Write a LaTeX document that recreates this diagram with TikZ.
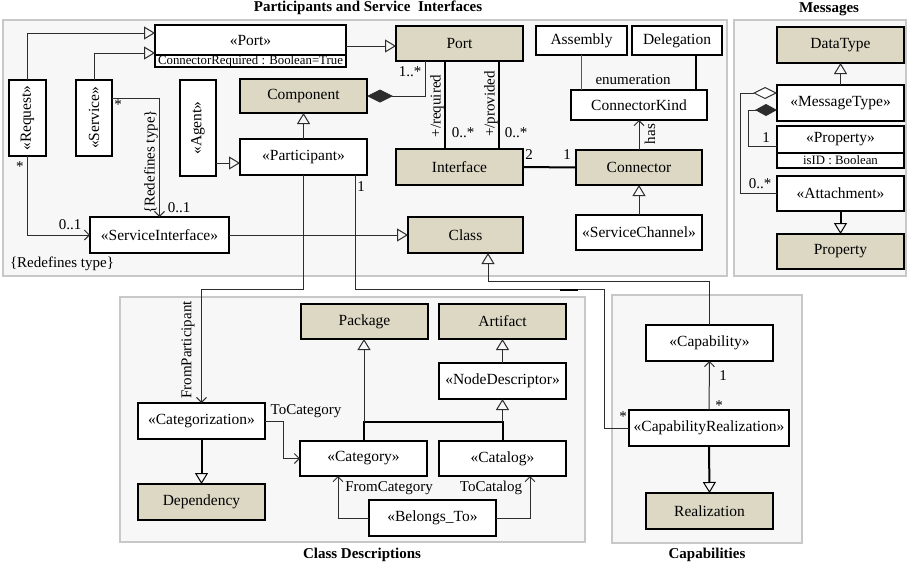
\documentclass[tikz,border=0pt]{standalone}
\usepackage{graphicx}
\usepackage{fontspec}
\setmainfont{Liberation Serif}
\usetikzlibrary{arrows.meta}

\definecolor{classfill}{RGB}{220,216,196}
\definecolor{panelfill}{RGB}{247,247,247}
\definecolor{panelline}{RGB}{200,200,200}
\definecolor{lnk}{RGB}{45,45,45}

% box by corners: style, name, x1, y1, x2, y2, text
\newcommand\mkbox[7]{%
  \node[#1, minimum width={(#5-#3)*1pt}, minimum height={(#6-#4)*1pt}]
    (#2) at ({(#3+#5)/2},{(#4+#6)/2}) {#7};}

\tikzset{
  box/.style={draw=black, line width=1.2pt, fill=white, inner sep=0pt, outer sep=0pt,
    font=\fontsize{15.5}{18}\selectfont},
  meta/.style={box, fill=classfill},
  small/.style={box, font=\fontsize{12.8}{14}\selectfont},
  lbl/.style={inner sep=0pt, font=\fontsize{15}{17}\selectfont},
  ttl/.style={inner sep=0pt, font=\bfseries\fontsize{15}{17}\selectfont},
  panel/.style={draw=panelline, fill=panelfill, line width=1.5pt},
  gen/.style={draw=lnk, line width=1pt, -{Triangle[open, length=11pt, width=13pt, line width=1pt]}},
  genthick/.style={gen, draw=black, line width=2pt},
  assoc/.style={draw=lnk, line width=1pt},
  nav/.style={assoc, -{Straight Barb[length=5pt, width=10pt, line width=1pt]}},
  thickln/.style={draw=black, line width=2pt},
}

\begin{document}
\begin{tikzpicture}[x=1pt, y=-1pt]
\useasboundingbox (0,0) rectangle (913,568);

% package frames
\draw[panel] (3,20) rectangle (727,276);
\draw[panel] (734,20) rectangle (906,276);
\draw[panel] (120,297) rectangle (585,542);
\draw[panel] (612,295) rectangle (802,543);

\node[ttl] (t1) at (368,7.5) {Participants and Service~ Interfaces};
\node[ttl] (t2) at (829,9.5) {Messages};
\node[ttl] (t3) at (362,555) {Class Descriptions};
\node[ttl] (t4) at (707,555) {Capabilities};

% ---------- Participants and Service Interfaces ----------
\mkbox{box}{portst}{155}{25}{346}{55}{«Port»}
\mkbox{small}{portattr}{155}{55}{346}{67}{ConnectorRequired : Boolean=True}
\mkbox{meta}{port}{396}{26}{523}{61}{Port}
\mkbox{box}{assembly}{536}{26}{627}{55}{Assembly}
\mkbox{box}{delegation}{632}{26}{722}{55}{Delegation}
\mkbox{box}{ckind}{571}{90}{707}{120}{ConnectorKind}
\mkbox{meta}{connector}{576}{150}{702}{185}{Connector}
\mkbox{box}{schannel}{576}{215}{702}{250}{«ServiceChannel»}
\mkbox{meta}{iface}{396}{149}{523}{185}{Interface}
\mkbox{meta}{component}{240}{79}{367}{113}{Component}
\mkbox{box}{participant}{240}{139}{367}{175}{«Participant»}
\mkbox{box}{agent}{180}{80}{216}{176}{\rotatebox{90}{«Agent»}}
\mkbox{box}{request}{9}{80}{46}{156}{\rotatebox{90}{«Request»}}
\mkbox{box}{service}{76}{80}{112}{156}{\rotatebox{90}{«Service»}}
\mkbox{box}{sintf}{90}{217}{229}{253}{«ServiceInterface»}
\mkbox{meta}{cls}{408}{217}{523}{253}{Class}

\draw[gen] (request.north) |- (portst.west |- 0,33);
\draw[gen] (service.north) |- (portst.west |- 0,53);
\draw[gen] (portst.east |- 0,46) -- (port.west |- 0,46);

\draw[nav] (service.east |- 0,98) -| (sintf.north);
\node[lbl] (svcm) at (118,105) {*};
\node[lbl] (sim1) at (179,208) {0..1};
\node[lbl, rotate=90] (redef1) at (151,162) {\{Redefines type\}};

\draw[nav] (request.south) |- (sintf.west);
\node[lbl] (reqm) at (20,167) {*};
\node[lbl] (sim2) at (70,225) {0..1};
\node[lbl] (redef2) at (62,264) {\{Redefines type\}};

\draw[gen] (sintf.east) -- (cls.west);

\draw[assoc, {Diamond[length=26pt, width=13pt]}-] (component.east) -| (port.south -| 425,0);
\node[lbl] (portm) at (410,72) {1..*};

\draw[thickln] (port.south -| 445,0) -- (iface.north -| 445,0);
\node[lbl, rotate=90] (req) at (437,106) {+/required};
\node[lbl] (reqmul) at (463,133) {0..*};
\draw[thickln] (port.south -| 499,0) -- (iface.north -| 499,0);
\node[lbl, rotate=90] (prov) at (491,104) {+/provided};
\node[lbl] (provmul) at (516,133) {0..*};

\draw[thickln] (iface.east) -- (connector.west);
\node[lbl] (im) at (529,155) {2};
\node[lbl] (cm) at (567,155) {1};

\draw[nav] (connector.north) -- (ckind.south);
\node[lbl, rotate=90] (has) at (650,134) {has};
\draw[assoc, draw=lnk!80] (assembly.south -| 581,0) -- (ckind.north -| 581,0);
\draw[thickln] (delegation.south -| 696,0) -- (ckind.north -| 696,0);
\node[lbl] (enum) at (633,80) {enumeration};
\draw[gen] (schannel.north) -- (connector.south);

\draw[gen] (participant.north) -- (component.south);
\draw[gen] (agent.east |- 0,163) -- (participant.west |- 0,163);

% ---------- Messages ----------
\mkbox{meta}{datatype}{777}{27}{904}{63}{DataType}
\mkbox{box}{msgtype}{777}{85}{904}{121}{«MessageType»}
\mkbox{box}{propst}{777}{126}{904}{153}{«Property»}
\mkbox{small}{propattr}{777}{153}{904}{168}{isID : Boolean}
\mkbox{box}{attach}{777}{176}{904}{211}{«Attachment»}
\mkbox{meta}{property}{777}{234}{904}{269}{Property}

\draw[gen] (msgtype.north) -- (datatype.south);
\draw[genthick] (attach.south) -- (property.north);
\draw[assoc, {Diamond[length=24pt, width=12pt, fill=white, line width=1pt]}-]
  (msgtype.west |- 0,93) -- (740,93) |- (attach.west);
\node[lbl] (attm) at (760,184) {0..*};
\draw[assoc, {Diamond[length=22pt, width=12pt]}-]
  (msgtype.west |- 0,110) -- (748,110) |- (propst.west |- 0,146);
\node[lbl] (propm) at (766,138) {1};

% ---------- Class Descriptions ----------
\mkbox{meta}{package}{301}{304}{428}{339}{Package}
\mkbox{meta}{artifact}{439}{304}{566}{339}{Artifact}
\mkbox{box}{nodedesc}{439}{363}{566}{399}{«NodeDescriptor»}
\mkbox{box}{categorization}{138}{403}{265}{439}{«Categorization»}
\mkbox{meta}{dependency}{138}{484}{265}{520}{Dependency}
\mkbox{box}{category}{300}{441}{427}{476}{«Category»}
\mkbox{box}{catalog}{439}{441}{566}{476}{«Catalog»}
\mkbox{box}{belongs}{369}{500}{496}{536}{«Belongs\_To»}

\draw[genthick] (categorization.south) -- (dependency.north);
\draw[nav] (categorization.east) -- (283,421) |- (category.west);
\node[lbl] (tocat) at (306,411) {ToCategory};

\coordinate (jl) at (364,422);
\coordinate (jr) at (502.5,422);
\draw[thickln] (category.north -| jl) -- (jl) -- (jr) -- (catalog.north -| jr);
\draw[gen] (jl) -- (package.south -| jl);
\draw[gen] (jr) -- (nodedesc.south -| jr);
\draw[gen] (nodedesc.north) -- (artifact.south);

\draw[nav] (belongs.west) -| (category.south -| 338,0);
\node[lbl] (fromcat) at (389,488) {FromCategory};
\draw[nav] (belongs.east) -| (catalog.south -| 530,0);
\node[lbl] (tocatl) at (491,488) {ToCatalog};

% ---------- Capabilities ----------
\mkbox{box}{capability}{646}{325}{773}{361}{«Capability»}
\mkbox{box}{capreal}{629}{410}{789}{446}{«CapabilityRealization»}
\mkbox{meta}{realization}{646}{493}{773}{529}{Realization}

\draw[nav] (capreal.north) -- (capability.south);
\node[lbl] (capm) at (723,376) {1};
\node[lbl] (crm2) at (719,406) {*};
\draw[genthick] (capreal.south) -- (realization.north);

% ---------- links between packages ----------
\draw[nav] (participant.south) -- ++(0,114) -| (categorization.north);
\node[lbl, rotate=90] (fromp) at (188,350) {FromParticipant};
\draw[assoc] (participant.south -| 355,0) |- (604,289) |- (capreal.west);
\draw[thickln] (560,290) -- (578,290);
\node[lbl] (pm) at (361,187) {1};
\node[lbl] (crm) at (623,417) {*};

\draw[gen] (capability.north) |- (488,281) -- (cls.south -| 488,0);

\end{tikzpicture}
\end{document}
